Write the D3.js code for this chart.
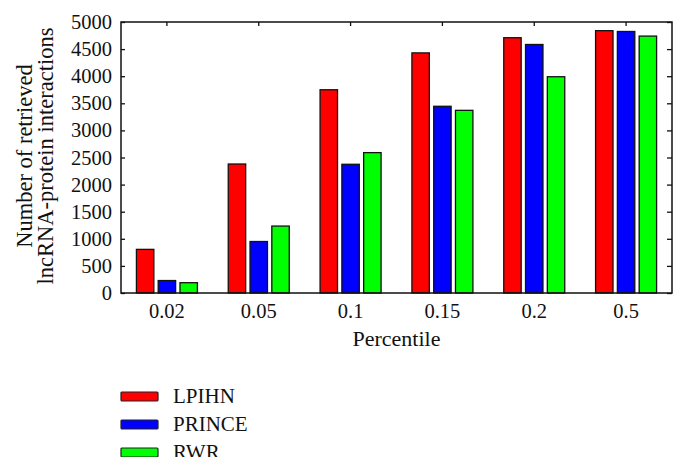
<!DOCTYPE html>
<html>
<head>
<meta charset="utf-8">
<script src="https://cdn.jsdelivr.net/npm/d3@7"></script>
<style>
  body { margin: 0; background: #fff; }
  text { font-family: "Liberation Serif", "DejaVu Serif", serif; fill: #111; }
</style>
</head>
<body>
<div id="chart"></div>
<script>
// categories + series
const percentiles = ["0.02", "0.05", "0.1", "0.15", "0.2", "0.5"]
const seriesNames = ["LPIHN", "PRINCE", "RWR"]
const seriesColors = ["#ff0000", "#0000ff", "#00ff00"]
const lpihn = [805, 2380, 3750, 4430, 4710, 4840]
const prince = [230, 950, 2375, 3445, 4585, 4825]
const rwr = [190, 1235, 2590, 3370, 3990, 4740]
const yTicks = [0, 500, 1000, 1500, 2000, 2500, 3000, 3500, 4000, 4500, 5000]

const width = 686
const height = 470
const margin = { top: 22, right: 14, bottom: 177, left: 121 }
const plotW = width - margin.left - margin.right
const plotH = height - margin.top - margin.bottom

const allSeries = [lpihn, prince, rwr]

const svg = d3.select("#chart")
  .append("svg")
  .attr("width", width)
  .attr("height", height)

const g = svg.append("g")
  .attr("transform", "translate(" + margin.left + "," + margin.top + ")")

const x = d3.scaleBand()
  .domain(percentiles)
  .range([0, plotW])

const xInner = d3.scaleBand()
  .domain(seriesNames)
  .range([-30.5, 30.5])
  .paddingInner(0.2)

const y = d3.scaleLinear()
  .domain([0, 5000])
  .range([plotH, 0])

// inward ticks on all four sides (drawn before bars, like matlab)
const tickLines = (sel) => {
  sel.select(".domain").remove()
  sel.selectAll("line").attr("stroke", "#111").attr("stroke-width", 1.3)
}
g.append("g")
  .call(d3.axisTop(x).tickSizeInner(-4).tickSizeOuter(0).tickFormat(""))
  .call(tickLines)
g.append("g")
  .attr("transform", "translate(0," + plotH + ")")
  .call(d3.axisBottom(x).tickSizeInner(-4).tickSizeOuter(0).tickFormat(""))
  .call(tickLines)
g.append("g")
  .attr("transform", "translate(" + plotW + ",0)")
  .call(d3.axisRight(y).tickValues(yTicks).tickSizeInner(-5).tickSizeOuter(0).tickFormat(""))
  .call(tickLines)
g.append("g")
  .call(d3.axisLeft(y).tickValues(yTicks).tickSizeInner(-4).tickSizeOuter(0).tickFormat(""))
  .call(tickLines)

// bars
seriesNames.forEach((name, si) => {
  g.append("g")
    .selectAll("rect")
    .data(allSeries[si])
    .enter()
    .append("rect")
    .attr("x", (d, i) => x(percentiles[i]) + x.bandwidth() / 2 + xInner(name))
    .attr("y", d => y(d))
    .attr("width", xInner.bandwidth())
    .attr("height", d => plotH - y(d))
    .attr("fill", seriesColors[si])
    .attr("stroke", "#111")
    .attr("stroke-width", 1.3)
})

// left axis labels
const yAxis = g.append("g")
  .call(d3.axisLeft(y).tickValues(yTicks).tickFormat(d3.format("d")).tickSize(0).tickPadding(9))
yAxis.select(".domain").remove()
yAxis.selectAll("text").style("font-size", "20.5px")

// bottom axis labels
const xAxis = g.append("g")
  .attr("transform", "translate(0," + plotH + ")")
  .call(d3.axisBottom(x).tickSize(0).tickPadding(10))
xAxis.select(".domain").remove()
xAxis.selectAll("text").style("font-size", "20.5px")

// frame
g.append("rect")
  .attr("width", plotW)
  .attr("height", plotH)
  .attr("fill", "none")
  .attr("stroke", "#111")
  .attr("stroke-width", 1.5)

// axis titles
g.append("text")
  .attr("x", plotW / 2)
  .attr("y", plotH + 53)
  .attr("text-anchor", "middle")
  .style("font-size", "22px")
  .text("Percentile")

const yTitle = svg.append("text")
  .attr("transform", "translate(0," + 156 + ") rotate(-90)")
  .attr("text-anchor", "middle")
  .style("font-size", "22.5px")
yTitle.append("tspan").attr("x", 0).attr("y", 32).text("Number of retrieved")
yTitle.append("tspan").attr("x", 0).attr("y", 53).text("lncRNA-protein interactions")

// legend
const legend = svg.append("g")
  .attr("transform", "translate(121,392)")
seriesNames.forEach((name, i) => {
  const row = legend.append("g").attr("transform", "translate(0," + i * 28 + ")")
  row.append("rect")
    .attr("width", 37)
    .attr("height", 9)
    .attr("rx", 1)
    .attr("fill", seriesColors[i])
    .attr("stroke", "#222")
    .attr("stroke-width", 1.2)
  row.append("text")
    .attr("x", 52)
    .attr("y", 11)
    .style("font-size", "21px")
    .text(name)
})

// the source figure is cropped just under the last legend row
svg.append("rect")
  .attr("x", 0)
  .attr("y", 457)
  .attr("width", width)
  .attr("height", height - 457)
  .attr("fill", "#fff")
</script>
</body>
</html>
